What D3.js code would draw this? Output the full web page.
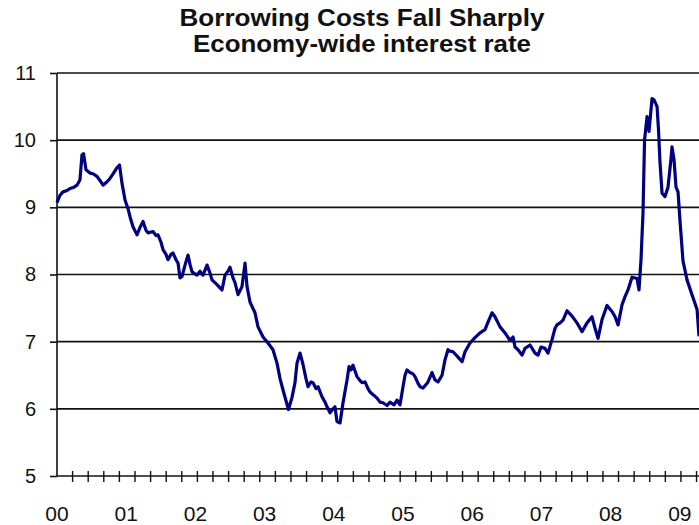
<!DOCTYPE html>
<html>
<head>
<meta charset="utf-8">
<script src="https://cdn.jsdelivr.net/npm/d3@7"></script>
<style>
  body { margin: 0; background: #fff; }
  text { font-family: "Liberation Sans", Arial, sans-serif; }
</style>
</head>
<body>
<div class="chart"></div>
<script>
const titleLines = ['Borrowing Costs Fall Sharply', 'Economy-wide interest rate'];
const yearTicks = [2000, 2001, 2002, 2003, 2004, 2005, 2006, 2007, 2008, 2009];
const yearLabels = ['00', '01', '02', '03', '04', '05', '06', '07', '08', '09'];
const rateTicks = [5, 6, 7, 8, 9, 10, 11];

// decimal year of each reading
const years = [
  2000.000, 2000.043, 2000.087, 2000.145, 2000.188, 2000.246, 2000.289, 2000.332, 2000.361, 2000.383,
  2000.419, 2000.477, 2000.520, 2000.578, 2000.621, 2000.665, 2000.723, 2000.766, 2000.824, 2000.867,
  2000.903, 2000.939, 2000.983, 2001.026, 2001.055, 2001.098, 2001.156, 2001.199, 2001.243, 2001.286,
  2001.315, 2001.387, 2001.431, 2001.460, 2001.503, 2001.532, 2001.575, 2001.604, 2001.647, 2001.676,
  2001.720, 2001.749, 2001.777, 2001.806, 2001.850, 2001.893, 2001.922, 2001.951, 2002.023, 2002.066,
  2002.110, 2002.168, 2002.211, 2002.240, 2002.312, 2002.355, 2002.384, 2002.428, 2002.471, 2002.500,
  2002.543, 2002.572, 2002.616, 2002.673, 2002.717, 2002.746, 2002.789, 2002.861, 2002.905, 2002.977,
  2003.049, 2003.121, 2003.179, 2003.223, 2003.266, 2003.309, 2003.345, 2003.396, 2003.439, 2003.468,
  2003.512, 2003.555, 2003.598, 2003.627, 2003.671, 2003.699, 2003.743, 2003.772, 2003.829, 2003.873,
  2003.902, 2003.945, 2003.988, 2004.017, 2004.046, 2004.090, 2004.133, 2004.191, 2004.220, 2004.249,
  2004.277, 2004.335, 2004.379, 2004.408, 2004.451, 2004.494, 2004.523, 2004.581, 2004.624, 2004.668,
  2004.711, 2004.769, 2004.812, 2004.870, 2004.913, 2004.957, 2005.000, 2005.029, 2005.058, 2005.101,
  2005.145, 2005.173, 2005.217, 2005.246, 2005.289, 2005.332, 2005.361, 2005.419, 2005.462, 2005.506,
  2005.564, 2005.607, 2005.650, 2005.679, 2005.723, 2005.795, 2005.853, 2005.896, 2005.968, 2006.040,
  2006.113, 2006.185, 2006.228, 2006.286, 2006.329, 2006.402, 2006.474, 2006.546, 2006.590, 2006.618,
  2006.662, 2006.720, 2006.763, 2006.835, 2006.908, 2006.951, 2006.994, 2007.052, 2007.095, 2007.153,
  2007.197, 2007.225, 2007.269, 2007.312, 2007.370, 2007.442, 2007.514, 2007.587, 2007.659, 2007.731,
  2007.775, 2007.818, 2007.876, 2007.948, 2008.020, 2008.064, 2008.107, 2008.165, 2008.208, 2008.251,
  2008.309, 2008.382, 2008.410, 2008.439, 2008.468, 2008.490, 2008.526, 2008.555, 2008.598, 2008.627,
  2008.671, 2008.692, 2008.714, 2008.743, 2008.786, 2008.829, 2008.873, 2008.887, 2008.916, 2008.945,
  2008.974, 2009.003, 2009.046, 2009.104, 2009.176, 2009.249, 2009.277
];
const rates = [
  9.07, 9.18, 9.23, 9.25, 9.28, 9.30, 9.33, 9.41, 9.78, 9.80,
  9.56, 9.51, 9.50, 9.46, 9.40, 9.33, 9.38, 9.43, 9.52, 9.59,
  9.63, 9.36, 9.11, 8.98, 8.86, 8.71, 8.59, 8.70, 8.79, 8.66,
  8.62, 8.64, 8.58, 8.59, 8.48, 8.37, 8.30, 8.22, 8.30, 8.32,
  8.22, 8.17, 7.95, 7.97, 8.14, 8.29, 8.15, 8.04, 7.99, 8.05,
  7.99, 8.14, 8.02, 7.92, 7.85, 7.80, 7.77, 7.99, 8.05, 8.11,
  7.95, 7.88, 7.70, 7.82, 8.17, 7.82, 7.59, 7.43, 7.22, 7.07,
  6.98, 6.88, 6.68, 6.45, 6.28, 6.12, 5.99, 6.17, 6.39, 6.68,
  6.83, 6.66, 6.45, 6.33, 6.40, 6.39, 6.30, 6.33, 6.18, 6.10,
  6.03, 5.94, 6.00, 6.03, 5.81, 5.79, 6.09, 6.43, 6.63, 6.58,
  6.65, 6.48, 6.42, 6.39, 6.40, 6.30, 6.25, 6.20, 6.16, 6.10,
  6.09, 6.05, 6.10, 6.06, 6.13, 6.06, 6.33, 6.50, 6.58, 6.54,
  6.52, 6.48, 6.38, 6.33, 6.31, 6.36, 6.40, 6.54, 6.43, 6.40,
  6.50, 6.73, 6.88, 6.86, 6.85, 6.77, 6.70, 6.85, 6.98, 7.06,
  7.13, 7.18, 7.29, 7.43, 7.37, 7.22, 7.13, 7.02, 7.07, 6.92,
  6.88, 6.80, 6.90, 6.95, 6.83, 6.80, 6.92, 6.90, 6.83, 7.03,
  7.20, 7.25, 7.28, 7.32, 7.46, 7.38, 7.28, 7.15, 7.28, 7.37,
  7.20, 7.05, 7.33, 7.54, 7.45, 7.37, 7.25, 7.55, 7.67, 7.77,
  7.96, 7.94, 7.77, 8.22, 8.92, 10.00, 10.35, 10.13, 10.62, 10.60,
  10.50, 10.15, 9.66, 9.21, 9.16, 9.30, 9.73, 9.90, 9.71, 9.30,
  9.23, 8.79, 8.20, 7.92, 7.70, 7.48, 7.08
];

const width = 699;
const height = 525;
const margin = { top: 73, right: 0, bottom: 49, left: 57 };
const titleWidths = [365, 338];

const svg = d3.select('.chart')
  .append('svg')
  .attr('width', width)
  .attr('height', height);

const x = d3.scaleLinear()
  .domain([2000, 2009.277])
  .range([margin.left, width - margin.right]);
const y = d3.scaleLinear()
  .domain([5, 11])
  .range([height - margin.bottom, margin.top]);

// title
svg.append('g')
  .selectAll('text')
  .data(titleLines)
  .join('text')
  .attr('x', 362)
  .attr('y', (d, i) => 26 + i * 26)
  .attr('text-anchor', 'middle')
  .attr('textLength', (d, i) => titleWidths[i])
  .attr('lengthAdjust', 'spacingAndGlyphs')
  .style('font-weight', 'bold')
  .style('font-size', '24px')
  .attr('fill', '#111')
  .text(d => d);

// horizontal grid lines
svg.append('g')
  .selectAll('line')
  .data(rateTicks.slice(1))
  .join('line')
  .attr('x1', margin.left)
  .attr('x2', width)
  .attr('y1', d => y(d))
  .attr('y2', d => y(d))
  .attr('stroke', '#111')
  .attr('stroke-width', 1.6);

// y axis
svg.append('g')
  .attr('transform', `translate(${margin.left},0)`)
  .call(d3.axisLeft(y).tickValues(rateTicks).tickFormat(d3.format('d')).tickSize(7).tickPadding(14))
  .call(g => g.selectAll('line, path').attr('stroke', '#111').attr('stroke-width', 1.6))
  .call(g => g.select('.domain').attr('d', `M0,${y(11)}V${y(5)}`))
  .call(g => g.selectAll('text')
    .style('font-size', '20px')
    .attr('fill', '#111')
    .style('font-family', '"Liberation Sans", Arial, sans-serif'));

// x axis baseline and minor ticks
const xAxis = svg.append('g');
xAxis.append('line')
  .attr('x1', margin.left)
  .attr('x2', width)
  .attr('y1', y(5))
  .attr('y2', y(5))
  .attr('stroke', '#111')
  .attr('stroke-width', 1.6);

const minorTicks = d3.range(2000.2254, 2009.28, 0.2254);
xAxis.selectAll('.minor')
  .data(minorTicks)
  .join('line')
  .attr('class', 'minor')
  .attr('x1', d => x(d))
  .attr('x2', d => x(d))
  .attr('y1', y(5) - 5)
  .attr('y2', y(5) + 6)
  .attr('stroke', '#111')
  .attr('stroke-width', 1.4);

xAxis.selectAll('.year')
  .data(yearTicks)
  .join('text')
  .attr('class', 'year')
  .attr('x', d => x(d))
  .attr('y', y(5) + 45)
  .attr('text-anchor', 'middle')
  .attr('fill', '#111')
  .style('font-size', '21px')
  .text((d, i) => yearLabels[i]);

// the rate line
const points = years.map((d, i) => [d, rates[i]]);
svg.append('path')
  .datum(points)
  .attr('fill', 'none')
  .attr('stroke', '#000080')
  .attr('stroke-width', 3.2)
  .attr('stroke-linejoin', 'round')
  .attr('d', d3.line().x(d => x(d[0])).y(d => y(d[1])));
</script>
</body>
</html>
